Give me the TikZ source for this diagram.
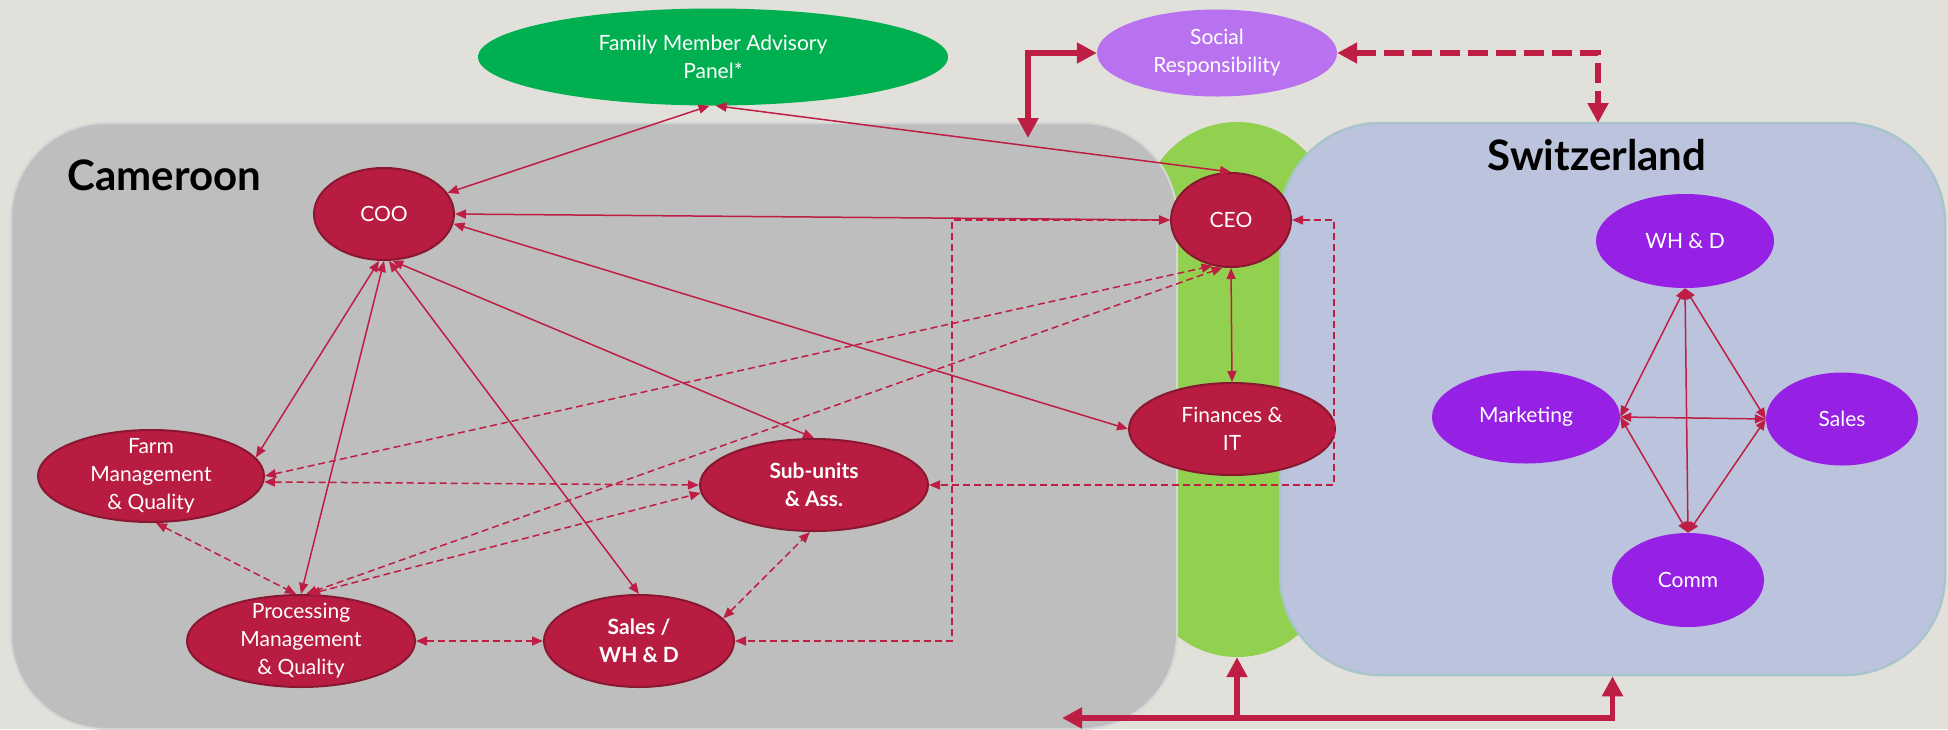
\documentclass[tikz,border=0pt]{standalone}
\usepackage{fontspec}
\setmainfont{Lato}
\usetikzlibrary{arrows.meta,shapes.geometric}
\definecolor{bg}{HTML}{E2E0DB}
\definecolor{crim}{HTML}{B81C41}
\definecolor{crimdark}{HTML}{8A1730}
\definecolor{lnc}{HTML}{BE1E44}
\definecolor{swpur}{HTML}{9621E5}
\definecolor{socpur}{HTML}{B872EF}
\definecolor{famgreen}{HTML}{00B050}
\definecolor{camgray}{HTML}{BEBEBE}
\definecolor{camedge}{HTML}{D6D6D6}
\definecolor{swblue}{HTML}{BCC4DD}
\definecolor{swedge}{HTML}{A8C5CC}
\definecolor{limeg}{HTML}{92D050}
\begin{document}
\begin{tikzpicture}[x=1pt,y=-1pt,
  ntext/.style={text=white, font=\fontsize{21}{28}\selectfont, align=center},
  btext/.style={text=white, font=\fontsize{21}{28}\selectfont\bfseries, align=center},
  rednode/.style={ellipse, fill=crim, draw=crimdark, line width=2pt, inner sep=0pt},
  purnode/.style={ellipse, fill=swpur, inner sep=0pt},
  conn/.style={draw=lnc, line width=1.5pt, {Triangle[length=11pt,width=9pt]}-{Triangle[length=11pt,width=9pt]}},
  dconn/.style={conn, dash pattern=on 7pt off 4pt},
  bigline/.style={draw=lnc, line width=5.5pt},
  bigconn/.style={bigline, {Triangle[length=20pt,width=20pt]}-{Triangle[length=20pt,width=20pt]}},
  bigone/.style={bigline, -{Triangle[length=20pt,width=20pt]}},
  title/.style={font=\fontsize{42}{50}\selectfont\bfseries, text=black}
]
\useasboundingbox (0,0) rectangle (1948,729);
\fill[bg] (0,0) rectangle (1948,729);

% region shapes
\node[rectangle, rounded corners=95pt, fill=limeg, minimum width=190, minimum height=535, inner sep=0pt] (green) at (1237,389.5) {};
\node[rectangle, rounded corners=95pt, fill=camgray, draw=camedge, line width=2pt, minimum width=1166, minimum height=606, inner sep=0pt] (cam) at (594,426) {};
\node[rectangle, rounded corners=100pt, fill=swblue, draw=swedge, line width=2.5pt, minimum width=665, minimum height=552, inner sep=0pt] (swiss) at (1612.5,399) {};

\node[title, anchor=base west] (camt) at (64,190) {Cameroon};
\node[title, anchor=base] (swt) at (1597,170) {Switzerland};

% top nodes
\node[ellipse, fill=famgreen, inner sep=0pt, minimum width=470, minimum height=97,
  label={[ntext]center:{Family Member Advisory\\Panel*}}] (fam) at (713,57) {};
\node[ellipse, fill=socpur, inner sep=0pt, minimum width=240, minimum height=87,
  label={[ntext]center:{Social\\Responsibility}}] (soc) at (1217,53) {};

% Cameroon nodes
\node[rednode, minimum width=140, minimum height=92, label={[ntext]center:{COO}}] (coo) at (384,214) {};
\node[rednode, minimum width=120, minimum height=94, label={[ntext]center:{CEO}}] (ceo) at (1231,220) {};
\node[rednode, minimum width=206, minimum height=92, label={[ntext]center:{Finances \&\\IT}}] (fin) at (1232,429) {};
\node[rednode, minimum width=226, minimum height=92, label={[ntext]center:{Farm\\Management\\\& Quality}}] (farm) at (151,476) {};
\node[rednode, minimum width=228, minimum height=92, label={[btext]center:{Sub-units\\\& Ass.}}] (sub) at (814,485) {};
\node[rednode, minimum width=228, minimum height=92, label={[ntext]center:{Processing\\Management\\\& Quality}}] (proc) at (301,641) {};
\node[rednode, minimum width=190, minimum height=92, label={[btext]center:{Sales /\\WH \& D}}] (salwh) at (639,641) {};

% Swiss nodes
\node[purnode, minimum width=178, minimum height=94, label={[ntext]center:{WH \& D}}] (whd) at (1685,241) {};
\node[purnode, minimum width=188, minimum height=93, label={[ntext]center:{Marketing}}] (mkt) at (1526,417) {};
\node[purnode, minimum width=152, minimum height=93, label={[ntext]center:{Sales}}] (sales) at (1842,419) {};
\node[purnode, minimum width=152, minimum height=94, label={[ntext]center:{Comm}}] (comm) at (1688,580) {};

% solid connectors
\draw[conn] (fam.266) -- (coo);
\draw[conn] (fam.273) -- (ceo.north);
\draw[conn] (coo.east) -- (ceo.west);
\draw[conn] (coo.-8) -- (fin.west);
\draw[conn] (coo.-80) -- (sub.north);
\draw[conn] (coo.-84) -- (salwh.north);
\draw[conn] (coo.south) -- (proc.north);
\draw[conn] (coo.-96) -- (farm.10);
\draw[conn] (ceo.south) -- (fin.north);

% dashed connectors
\draw[dconn] (farm.east) -- (ceo.-112);
\draw[dconn] (farm.-3) -- (sub.west);
\draw[dconn] (proc.84) -- (ceo.-100);
\draw[dconn] (proc.80) -- (sub.184);
\draw[dconn] (farm.-84) -- (proc.96);
\draw[dconn] (proc.east) -- (salwh.west);
\draw[dconn] (salwh.15) -- (sub.-95);
\coordinate (e1) at (952,220);
\draw[dconn] (ceo.west) -- (e1) |- (salwh.east);
\coordinate (e2) at (1334,220);
\draw[dconn] (ceo.east) -- (e2) |- (sub.east);

% Swiss connectors
\draw[conn] (whd.south) -- (mkt.east);
\draw[conn] (whd.south) -- (sales.west);
\draw[conn] (whd.south) -- (comm.north);
\draw[conn] (mkt.east) -- (sales.west);
\draw[conn] (mkt.east) -- (comm.north);
\draw[conn] (sales.west) -- (comm.north);

% thick connectors
\coordinate (t1) at (1028,53);
\coordinate (t2) at (1028,138);
\draw[bigconn] (soc.west) -- (t1) -- (t2);
\coordinate (t3) at (1598,123);
\draw[bigconn, dash pattern=on 20pt off 8pt] (soc.east) -| (t3);
\coordinate (bj) at (1237,718);
\coordinate (bl) at (1062,718);
\draw[bigconn] (green.south) -- (bj) -- (bl);
\draw[bigone] (bj) -| (swiss.south);
\end{tikzpicture}
\end{document}
